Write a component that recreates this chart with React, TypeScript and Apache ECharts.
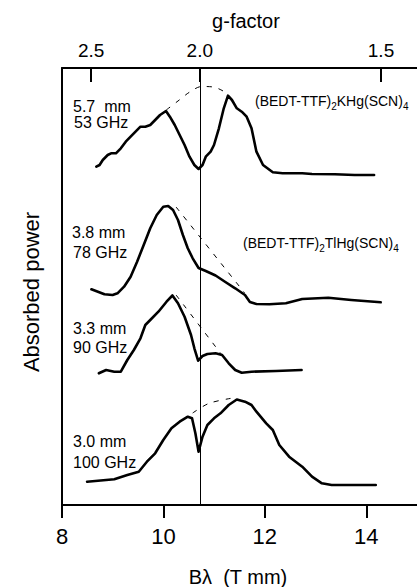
import React, { useEffect, useRef } from "react";
import * as echarts from "echarts";

// Bλ (T mm) corresponding to g = 1  (hc / μB)
const G_CONV = 21.435;
const bottomTicks = [8, 10, 12, 14];
const gTicks = [2.5, 2.0, 1.5];

// 5.7 mm / 53 GHz  (BEDT-TTF)2KHg(SCN)4
const curve53GHz: number[][] = [
  [8.677, 338.3], [8.741, 340], [8.804, 345], [8.901, 350], [8.967, 351.7], [9.063, 351.7],
  [9.16, 356.7], [9.257, 363.3], [9.353, 368.3], [9.45, 373.3], [9.547, 378.3], [9.643, 378.3],
  [9.74, 380], [9.837, 385], [9.933, 390], [10.05, 394], [10.127, 388.3], [10.223, 380],
  [10.32, 370], [10.417, 360], [10.514, 348.3], [10.61, 340], [10.693, 336], [10.771, 340],
  [10.835, 348.3], [10.931, 353.3], [10.997, 360], [11.094, 376.7], [11.19, 396.7], [11.273, 409.3],
  [11.351, 405], [11.447, 396.7], [11.544, 393.3], [11.641, 388.3], [11.737, 376.7], [11.834, 353.3],
  [11.964, 340], [12.157, 332.7], [12.35, 331.7], [12.737, 331.7], [12.93, 331], [13.381, 330.7],
  [13.768, 330], [14.154, 330],
];
const dash53GHz: number[][] = [
  [10.055, 395], [10.287, 404], [10.519, 413], [10.751, 418.5], [10.983, 418], [11.177, 414], [11.273, 410],
];

// 3.8 mm / 78 GHz  (BEDT-TTF)2TlHg(SCN)4
const curve78GHz: number[][] = [
  [8.58, 215.7], [8.708, 213.3], [8.837, 210.7], [8.998, 210], [9.094, 211.7], [9.224, 218.3],
  [9.353, 228.3], [9.481, 243.3], [9.611, 260], [9.74, 276.7], [9.868, 290], [9.997, 298.3],
  [10.094, 299], [10.19, 295], [10.287, 285], [10.384, 270], [10.48, 256.7], [10.577, 246.7],
  [10.693, 237], [10.835, 234], [11.028, 229.5], [11.221, 223], [11.415, 216.7], [11.608, 210],
  [11.705, 203], [11.834, 201], [12.091, 200.7], [12.414, 201.7], [12.737, 206], [13.251, 207.3],
  [13.704, 205], [14.284, 202.7],
];
const dash78GHz: number[][] = [[10.249, 298], [11.602, 212]];

// 3.3 mm / 90 GHz
const curve90GHz: number[][] = [
  [8.727, 131.7], [8.87, 135], [9.031, 133.3], [9.16, 133.3], [9.288, 145], [9.417, 155],
  [9.547, 166.7], [9.643, 180], [9.74, 185], [9.901, 193.3], [10.061, 203.3], [10.177, 209.5],
  [10.287, 201.7], [10.417, 188.3], [10.544, 170], [10.61, 156.7], [10.684, 144.3], [10.771, 149],
  [10.867, 151], [11.028, 151.7], [11.157, 150], [11.287, 141.7], [11.415, 135], [11.544, 132.3],
  [11.737, 133.3], [12.22, 134], [12.724, 135],
];
const dash90GHz: number[][] = [[10.249, 210], [11.138, 151]];

// 3.0 mm / 100 GHz
const curve100GHz: number[][] = [
  [8.495, 23.3], [9.031, 25.7], [9.288, 30], [9.514, 33.3], [9.674, 43.3], [9.837, 51.7],
  [9.997, 65], [10.158, 76.7], [10.32, 83.3], [10.481, 88.3], [10.564, 86.7], [10.63, 71.7],
  [10.693, 53.3], [10.771, 68.3], [10.867, 80], [10.997, 86.7], [11.125, 91.7], [11.287, 100],
  [11.447, 105.5], [11.608, 103.3], [11.737, 100], [11.834, 93.3], [12.027, 81.7], [12.157, 75],
  [12.285, 60], [12.478, 48.3], [12.737, 38.3], [12.93, 28.3], [13.124, 21.7], [13.317, 20],
  [14.187, 20],
];
const dash100GHz: number[][] = [[10.577, 92], [10.9, 101.7], [11.37, 107]];

const FONT = '"Liberation Sans", Arial, Helvetica, sans-serif';

export default function App() {
  const ref = useRef<HTMLDivElement>(null);

  useEffect(() => {
    document.body.style.margin = "0";
    if (!ref.current) return;
    const chart = echarts.init(ref.current, undefined, { renderer: "svg" });
    const gPositions = gTicks.map((g) => G_CONV / g);

    const solid = (data: number[][], extra: any = {}) => ({
      type: "line",
      data,
      xAxisIndex: 0,
      yAxisIndex: 0,
      symbol: "none",
      showSymbol: false,
      smooth: false,
      lineStyle: { color: "#000", width: 2.6, join: "round", cap: "round" },
      z: 3,
      ...extra,
    });
    const dashed = (data: number[][]) => ({
      type: "line",
      data,
      xAxisIndex: 0,
      yAxisIndex: 0,
      symbol: "none",
      showSymbol: false,
      smooth: 0.3,
      lineStyle: { color: "#000", width: 1, type: [5, 7] },
      z: 2,
    });

    const label = (text: string, x: number, y: number, size = 16) => ({
      type: "text",
      x,
      y,
      style: {
        text,
        fill: "#000",
        font: `${size}px ${FONT}`,
        textAlign: "left",
        textVerticalAlign: "middle",
      },
    });

    const formula = (text: string, x: number, y: number) => ({
      type: "text",
      x,
      y,
      style: {
        text,
        fill: "#000",
        fontSize: 14,
        fontFamily: FONT,
        lineHeight: 20,
        textAlign: "left",
        textVerticalAlign: "middle",
        rich: {
          sub: { fontSize: 10, fontFamily: FONT, lineHeight: 7, verticalAlign: "bottom", fill: "#000" },
        },
      },
    });

    chart.setOption({
      animation: false,
      backgroundColor: "#fff",
      grid: { left: 62, right: -6, top: 68, bottom: 82 },
      xAxis: [
        {
          type: "value",
          position: "bottom",
          min: 8,
          max: 15,
          axisLine: { show: true, lineStyle: { color: "#000", width: 2 } },
          axisTick: { show: true, customValues: bottomTicks, length: 13, inside: false, lineStyle: { color: "#000", width: 2 } },
          axisLabel: { customValues: bottomTicks, fontSize: 22, color: "#000", margin: 20, fontFamily: FONT },
          splitLine: { show: false },
        },
        {
          type: "value",
          position: "top",
          min: 8,
          max: 15,
          axisLine: { show: true, lineStyle: { color: "#000", width: 2 } },
          axisTick: { show: true, customValues: gPositions, length: 14, inside: true, lineStyle: { color: "#000", width: 2 } },
          axisLabel: {
            customValues: gPositions,
            formatter: (v: number) => (G_CONV / v).toFixed(1),
            fontSize: 19,
            color: "#000",
            margin: 8,
            fontFamily: FONT,
          },
          splitLine: { show: false },
        },
      ],
      yAxis: {
        type: "value",
        min: 0,
        max: 437,
        axisLine: { show: true, lineStyle: { color: "#000", width: 2 } },
        axisTick: { show: false },
        axisLabel: { show: false },
        splitLine: { show: false },
      },
      series: [
        solid(curve53GHz, {
          markLine: {
            silent: true,
            symbol: "none",
            label: { show: false },
            lineStyle: { color: "#000", width: 1, type: "solid" },
            data: [{ xAxis: G_CONV / 2 }],
          },
        }),
        dashed(dash53GHz),
        solid(curve78GHz),
        dashed(dash78GHz),
        solid(curve90GHz),
        dashed(dash90GHz),
        solid(curve100GHz),
        dashed(dash100GHz),
      ],
      graphic: [
        {
          type: "text",
          x: 246,
          y: 21,
          style: { text: "g-factor", fill: "#000", font: `20px ${FONT}`, textAlign: "center", textVerticalAlign: "middle" },
        },
        {
          type: "text",
          x: 238,
          y: 577,
          style: { text: "Bλ  (T mm)", fill: "#000", font: `20px ${FONT}`, textAlign: "center", textVerticalAlign: "middle" },
        },
        {
          type: "text",
          x: 31,
          y: 292,
          rotation: Math.PI / 2,
          style: { text: "Absorbed power", fill: "#000", font: `22px ${FONT}`, textAlign: "center", textVerticalAlign: "middle" },
        },
        label("5.7  mm", 73, 106),
        label("53 GHz", 74, 122.5),
        label("3.8 mm", 72, 232),
        label("78 GHz", 73, 252),
        label("3.3 mm", 73, 328),
        label("90 GHz", 73, 347),
        label("3.0 mm", 73, 441),
        label("100 GHz", 73, 462.5),
        formula("(BEDT-TTF){sub|2}KHg(SCN){sub|4}", 255, 101),
        formula("(BEDT-TTF){sub|2}TlHg(SCN){sub|4}", 243, 243),
      ],
    });

    return () => chart.dispose();
  }, []);

  return (
    <div
      ref={ref}
      style={{ position: "absolute", left: 0, top: 0, width: 417, height: 587, background: "#fff" }}
    />
  );
}
